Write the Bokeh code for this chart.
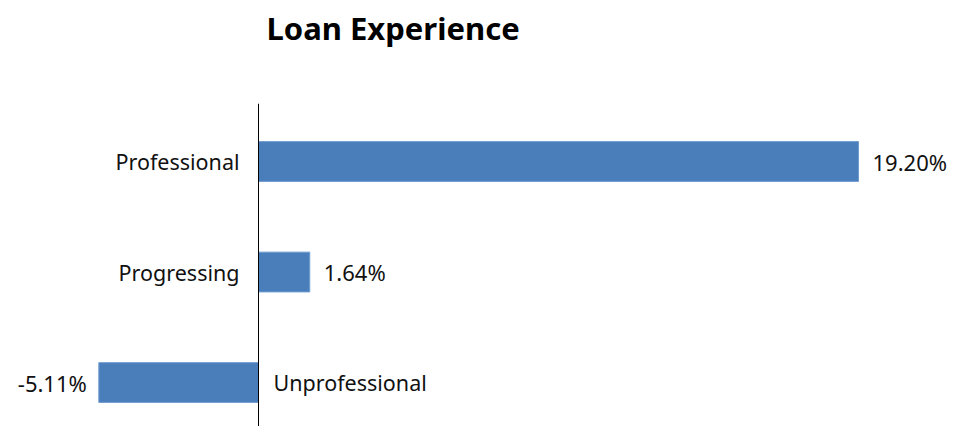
from bokeh.plotting import figure
from bokeh.models import ColumnDataSource, Range1d, Span, Title
from bokeh.core.properties import value
from bokeh.embed import file_html
from bokeh.resources import INLINE

categories = ["Professional", "Progressing", "Unprofessional"]
values = [19.20, 1.64, -5.11]
value_labels = ["19.20%", "1.64%", "-5.11%"]
positions = [2, 1, 0]
title_text = "Loan Experience"

FONT = "Noto Sans"
BAR = "#4a7ebb"

cat_align = ["right" if v >= 0 else "left" for v in values]
cat_off = [-19 if v >= 0 else 15 for v in values]
val_align = ["left" if v >= 0 else "right" for v in values]
val_off = [14 if v >= 0 else -12 for v in values]

src = ColumnDataSource(dict(
    y=positions, v=values, cat=categories, lab=value_labels,
    zero=[0] * len(values),
    cat_align=cat_align, cat_off=cat_off,
    val_align=val_align, val_off=val_off,
))

p = figure(width=954, height=426, output_backend="svg", toolbar_location=None,
           x_range=Range1d(-8.256, 22.272), y_range=Range1d(-0.398, 2.525),
           min_border_top=103, min_border_bottom=0, min_border_left=0, min_border_right=0)
p.title = None

spacer = Title(text=".", text_font_size="10px", text_color="#ffffff",
               align="left", offset=0, standoff=38)
p.add_layout(spacer, "above")
main_title = Title(text=title_text, text_font=FONT, text_font_size="31px",
                   text_font_style="bold", text_color="#000000", align="left",
                   vertical_align="top", offset=266, standoff=10)
p.add_layout(main_title, "above")

p.axis.visible = False
p.grid.visible = False
p.outline_line_color = None
p.background_fill_color = "white"
p.border_fill_color = "white"

p.hbar(y="y", left=0, right="v", height=0.36, source=src,
       fill_color=BAR, line_color="#6f9bd1", line_width=1)

p.add_layout(Span(location=0, dimension="height", line_color="#000000", line_width=1))

p.text(x="zero", y="y", text="cat", source=src, text_align="cat_align",
       x_offset="cat_off", text_baseline="middle", text_font=value(FONT),
       text_font_size="21.5px", text_color="#111111")
p.text(x="v", y="y", text="lab", source=src, text_align="val_align",
       x_offset="val_off", text_baseline="middle", text_font=value(FONT),
       text_font_size="22px", text_color="#111111")

open("out.html", "w").write(file_html(p, INLINE))
